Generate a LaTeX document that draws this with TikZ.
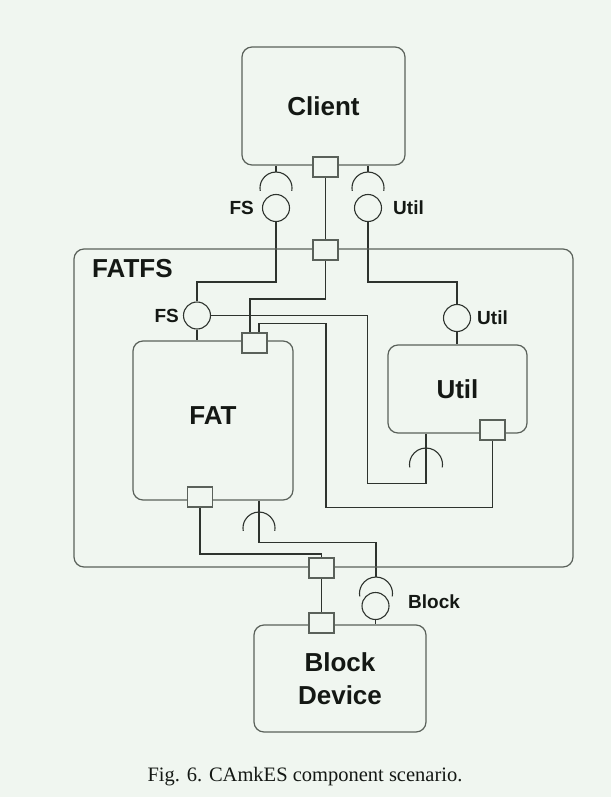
\documentclass[tikz,border=0pt]{standalone}
\usepackage{fontspec}
\setmainfont{Liberation Serif}
\newfontfamily\lsans{Liberation Sans}
\definecolor{bgc}{HTML}{F0F6F0}
\definecolor{edgec}{HTML}{5A615A}
\definecolor{wirec}{HTML}{2E332E}
\definecolor{inkc}{HTML}{141814}
\pgfdeclarelayer{back}
\pgfdeclarelayer{wires}
\pgfsetlayers{back,wires,main}
\begin{document}
\begin{tikzpicture}[x=1pt,y=-1pt,
  comp/.style={draw=edgec, line width=1.2pt, rounded corners=10pt, fill=bgc,
    font=\lsans\bfseries\fontsize{26}{33}\selectfont, text=inkc, align=center, inner sep=0pt},
  port/.style={draw=edgec, line width=1.2pt, fill=bgc, minimum width=25pt, minimum height=20pt, inner sep=0pt},
  iface/.style={circle, draw=wirec, line width=1.1pt, fill=bgc, minimum size=27pt, inner sep=0pt},
  wirel/.style={draw=wirec, line width=1.1pt},
  lbl/.style={font=\lsans\bfseries\fontsize{19}{22}\selectfont, text=inkc, inner sep=0pt},
]
\begin{pgfonlayer}{back}
\fill[bgc] (0,0) rectangle (611,797);
\end{pgfonlayer}
\useasboundingbox (0,0) rectangle (611,797);

% components
\node[comp, fill=none, minimum width=499pt, minimum height=318pt] (fatfs) at (323.5,408) {};
\node[lbl, font=\lsans\bfseries\fontsize{26}{30}\selectfont, anchor=base west] (fatfslbl) at (92,277) {FATFS};
\node[comp, minimum width=163pt, minimum height=118pt] (client) at (323.5,106) {Client};
\node[comp, minimum width=160pt, minimum height=159pt, text depth=10pt] (fat) at (213,420.5) {FAT};
\node[comp, minimum width=139pt, minimum height=88pt] (util) at (457.5,389) {Util};
\node[comp, minimum width=172pt, minimum height=107pt] (block) at (340,678.5) {Block\\Device};

% ports
\node[port] (pC) at (325.5,167) {};
\node[port] (pF1) at (325.5,250) {};
\node[port] (pFAT1) at (254.5,343) {};
\node[port] (pFAT2) at (200,497) {};
\node[port] (pU) at (492.5,430) {};
\node[port] (pF2) at (321.5,568) {};
\node[port] (pB) at (321.5,623) {};

% provided interfaces
\node[iface] (cFS) at (276,208) {};
\node[iface] (cUt) at (368,208) {};
\node[iface] (cFS2) at (197,315.5) {};
\node[iface] (cU2) at (457,318) {};
\node[iface] (cB) at (375.5,606) {};

% labels
\node[lbl, anchor=east] (lFS) at (254,208) {FS};
\node[lbl, anchor=west] (lUt) at (393,208) {Util};
\node[lbl, anchor=east] (lFS2) at (179,315.5) {FS};
\node[lbl, anchor=west] (lU2) at (477,318) {Util};
\node[lbl, anchor=west] (lB) at (408,602) {Block};

% required interfaces (socket tops)
\coordinate (sFSt) at (276,172);
\coordinate (sUtt) at (368,172);
\coordinate (sUt) at (426,448);
\coordinate (sFATt) at (259,512);
\coordinate (sBt) at (376,577);

\node[font=\fontsize{20.5}{24}\selectfont, text=inkc, anchor=base, inner sep=0pt] (cap) at (305,781) {Fig. 6. CAmkES component scenario.};

\begin{pgfonlayer}{wires}
\draw[wirel] (client.south -| sFSt) -- (sFSt);
\draw[wirel] (client.south -| sUtt) -- (sUtt);
\draw[wirel] (pC) -- (pF1);
\draw[wirel] (cFS) -- ++(0,74) -| (cFS2);
\draw[wirel] (cUt) -- ++(0,74) -| (cU2);
\draw[wirel] (pF1) -- ++(0,49) -| ([xshift=-4.5pt]pFAT1.north);
\draw[wirel] ([xshift=4.5pt]pFAT1.north) -- ++(0,-9) -- ++(67,0) -- ++(0,184) -| (pU);
\draw[wirel] ([xshift=-31.5pt]util.south) -- ++(0,50) -- ++(-58.5,0) |- (cFS2);
\draw[wirel] (cFS2) -- (cFS2 |- fat.north);
\draw[wirel] (cU2) -- (cU2 |- util.north);
\draw[wirel] ([xshift=46pt]fat.south) -- ++(0,42) -| (sBt);
\draw[wirel] (pFAT2) -- ++(0,57) -| (pF2);
\draw[wirel] (pF2) -- (pB);
\draw[wirel] (cB) -- (cB |- block.north);
% socket arcs
\foreach \s/\r in {sFSt/16, sUtt/16, sUt/16.5, sFATt/16, sBt/16.5}{
  \draw[wirel] (\s) arc[start angle=270, end angle=170, radius=\r]
               (\s) arc[start angle=270, end angle=370, radius=\r];
}
\end{pgfonlayer}
\end{tikzpicture}
\end{document}
